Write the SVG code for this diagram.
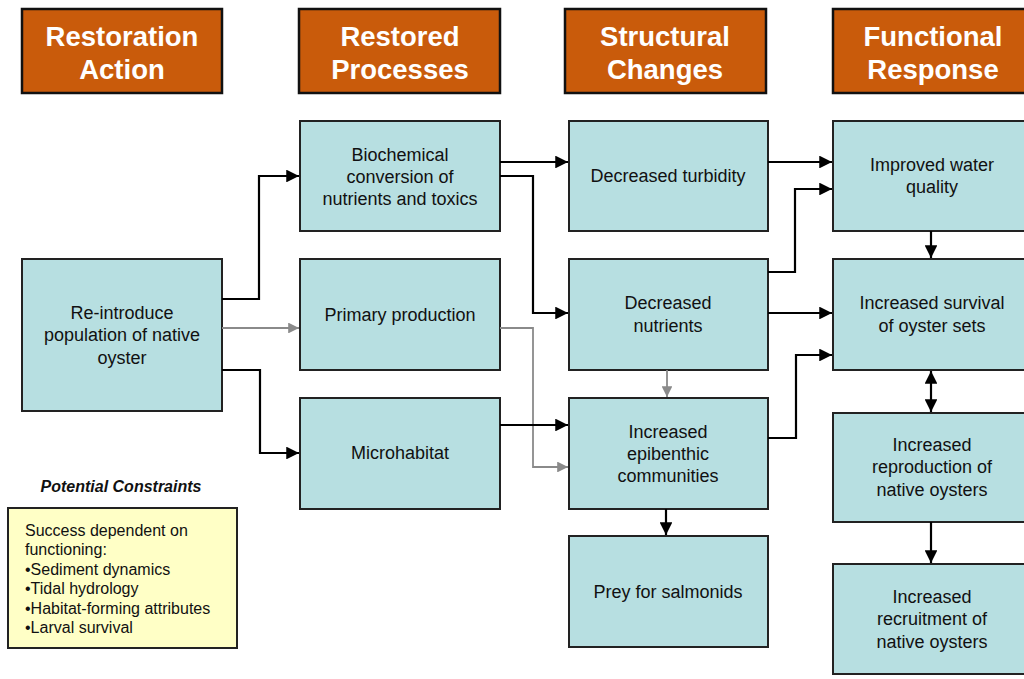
<svg xmlns="http://www.w3.org/2000/svg" width="1024" height="679" viewBox="0 0 1024 679">
<defs>
<marker id="ab" viewBox="0 0 10 10" refX="10" refY="5" markerWidth="5.8" markerHeight="5.8" orient="auto-start-reverse" markerUnits="strokeWidth"><path d="M0,0 L10,5 L0,10 z" fill="#000"/></marker>
<marker id="ag" viewBox="0 0 10 10" refX="10" refY="5" markerWidth="6" markerHeight="6" orient="auto" markerUnits="strokeWidth"><path d="M0,0 L10,5 L0,10 z" fill="#8a8a8a"/></marker>
</defs>
<style>
.hdr{fill:#C95B0B;stroke:#111;stroke-width:2.5}
.ht{font-family:"Liberation Sans",Arial,sans-serif;font-weight:bold;font-size:27.5px;fill:#fff;text-anchor:middle}
.box{fill:#B7DFE1;stroke:#222;stroke-width:2}
.bt{font-family:"Liberation Sans",Arial,sans-serif;font-size:18px;fill:#111;text-anchor:middle}
.k{fill:none;stroke:#000;stroke-width:2.2;marker-end:url(#ab)}
.g{fill:none;stroke:#8a8a8a;stroke-width:1.8;marker-end:url(#ag)}
.ct{font-family:"Liberation Sans",Arial,sans-serif;font-size:16px;fill:#111}
</style>
<rect width="1024" height="679" fill="#fff"/>
<g id="h1"><rect class="hdr" x="22" y="9" width="200" height="84"/><text class="ht" x="122" y="46">Restoration</text><text class="ht" x="122" y="79">Action</text></g>
<g id="h2"><rect class="hdr" x="299" y="9" width="201" height="84"/><text class="ht" x="400" y="46">Restored</text><text class="ht" x="400" y="79">Processes</text></g>
<g id="h3"><rect class="hdr" x="565" y="9" width="201" height="84"/><text class="ht" x="665" y="46">Structural</text><text class="ht" x="665" y="79">Changes</text></g>
<g id="h4"><rect class="hdr" x="833" y="9" width="200" height="84"/><text class="ht" x="933" y="46">Functional</text><text class="ht" x="933" y="79">Response</text></g>

<g id="n_reintro"><rect class="box" x="22" y="259" width="200" height="152"/><text class="bt" x="122" y="319">Re-introduce</text><text class="bt" x="122" y="341">population of native</text><text class="bt" x="122" y="364">oyster</text></g>
<g id="n_biochem"><rect class="box" x="300" y="121" width="200" height="110"/><text class="bt" x="400" y="161">Biochemical</text><text class="bt" x="400" y="183">conversion of</text><text class="bt" x="400" y="205">nutrients and toxics</text></g>
<g id="n_primary"><rect class="box" x="300" y="259" width="200" height="111"/><text class="bt" x="400" y="321">Primary production</text></g>
<g id="n_micro"><rect class="box" x="300" y="398" width="200" height="111"/><text class="bt" x="400" y="459">Microhabitat</text></g>
<g id="n_turb"><rect class="box" x="569" y="121" width="199" height="110"/><text class="bt" x="668" y="182">Decreased turbidity</text></g>
<g id="n_nutr"><rect class="box" x="569" y="259" width="199" height="111"/><text class="bt" x="668" y="309">Decreased</text><text class="bt" x="668" y="332">nutrients</text></g>
<g id="n_epi"><rect class="box" x="569" y="398" width="199" height="111"/><text class="bt" x="668" y="438">Increased</text><text class="bt" x="668" y="460">epibenthic</text><text class="bt" x="668" y="482">communities</text></g>
<g id="n_prey"><rect class="box" x="569" y="536" width="199" height="111"/><text class="bt" x="668" y="598">Prey for salmonids</text></g>
<g id="n_water"><rect class="box" x="833" y="121" width="200" height="110"/><text class="bt" x="932" y="171">Improved water</text><text class="bt" x="932" y="193">quality</text></g>
<g id="n_surv"><rect class="box" x="833" y="259" width="200" height="111"/><text class="bt" x="932" y="309">Increased survival</text><text class="bt" x="932" y="332">of oyster sets</text></g>
<g id="n_repro"><rect class="box" x="833" y="413" width="200" height="109"/><text class="bt" x="932" y="451">Increased</text><text class="bt" x="932" y="473">reproduction of</text><text class="bt" x="932" y="496">native oysters</text></g>
<g id="n_recr"><rect class="box" x="833" y="564" width="200" height="110"/><text class="bt" x="932" y="603">Increased</text><text class="bt" x="932" y="625">recruitment of</text><text class="bt" x="932" y="648">native oysters</text></g>

<g id="constraints">
<text x="121" y="492" font-family="Liberation Sans,Arial,sans-serif" font-size="16" font-weight="bold" font-style="italic" fill="#111" text-anchor="middle">Potential Constraints</text>
<rect x="8" y="508" width="229" height="140" fill="#FFFFC6" stroke="#222" stroke-width="2"/>
<text class="ct" x="25" y="536">Success dependent on</text>
<text class="ct" x="25" y="555">functioning:</text>
<text class="ct" x="25" y="575">•Sediment dynamics</text>
<text class="ct" x="25" y="594">•Tidal hydrology</text>
<text class="ct" x="25" y="614">•Habitat-forming attributes</text>
<text class="ct" x="25" y="633">•Larval survival</text>
</g>

<g id="connectors">
<path class="k" d="M222,299 H259 V176 H299"/>
<path class="g" d="M222,328 H299"/>
<path class="k" d="M222,370 H260 V453 H299"/>
<path class="k" d="M500,162 H568"/>
<path class="k" d="M500,176 H533 V313 H568"/>
<path class="g" d="M500,328 H533 V467 H568"/>
<path class="k" d="M500,425 H568"/>
<path class="g" d="M667,370 V397"/>
<path class="k" d="M666,509 V535"/>
<path class="k" d="M768,162 H832"/>
<path class="k" d="M768,272 H795 V189 H832"/>
<path class="k" d="M768,313 H832"/>
<path class="k" d="M768,438 H796 V355 H832"/>
<path class="k" d="M931,231 V258"/>
<path class="k" d="M931,371 V412" marker-start="url(#ab)"/>
<path class="k" d="M931,522 V563"/>
</g>
</svg>
